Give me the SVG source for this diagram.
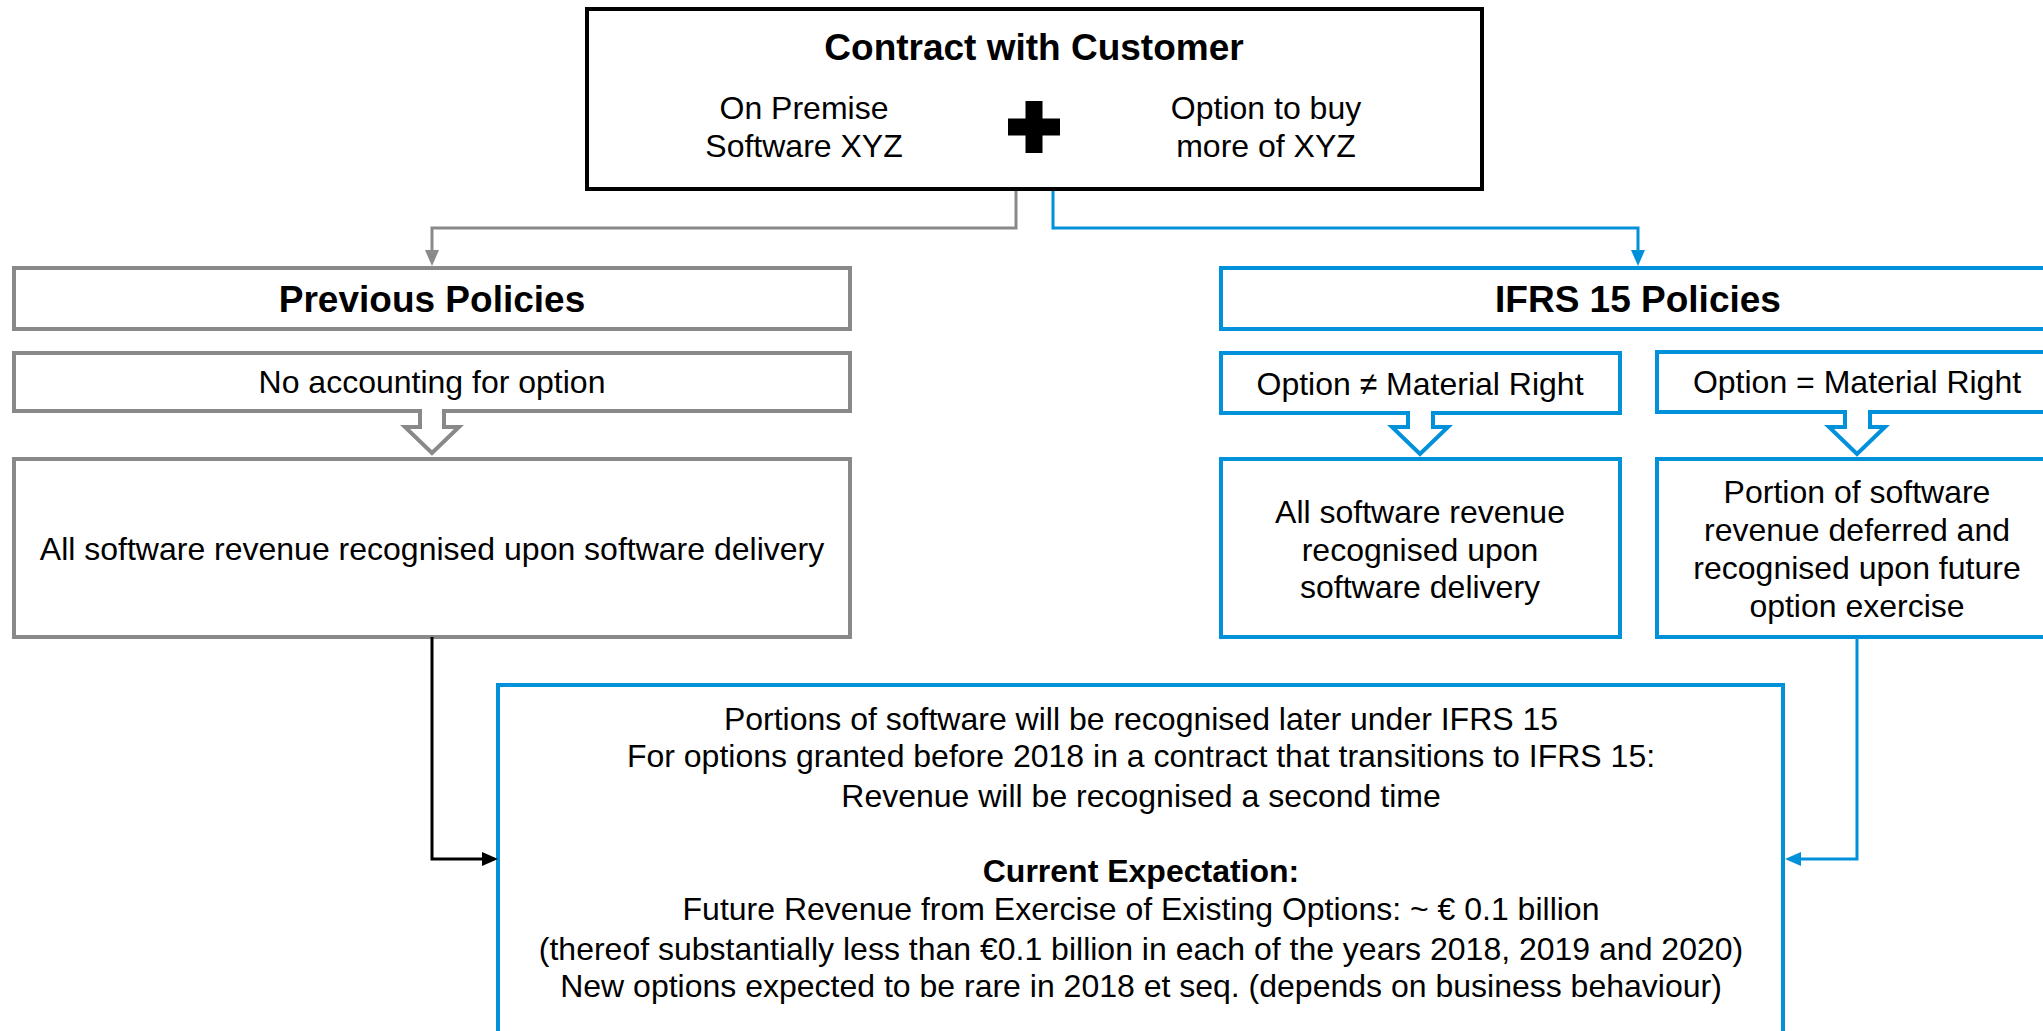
<svg xmlns="http://www.w3.org/2000/svg" width="2043" height="1031" viewBox="0 0 2043 1031">
<defs>
<style>
text{font-family:"Liberation Sans",Arial,sans-serif;fill:#000;text-anchor:middle}
.t{font-size:37px;font-weight:bold}
.b{font-size:32px}
.bx{fill:#fff;stroke-width:4}
.blk{stroke:#000}
.gry{stroke:#898989}
.blu{stroke:#0091DA}
.ln{fill:none;stroke-width:3}
.ha{fill:#fff;stroke-width:4;stroke-linejoin:miter}
</style>
<marker id="ag" viewBox="0 0 16 14" refX="10" refY="7" markerWidth="16" markerHeight="14" markerUnits="userSpaceOnUse" orient="auto"><path d="M0,0 L16,7 L0,14 z" fill="#898989"/></marker>
<marker id="ab" viewBox="0 0 16 14" refX="10" refY="7" markerWidth="16" markerHeight="14" markerUnits="userSpaceOnUse" orient="auto"><path d="M0,0 L16,7 L0,14 z" fill="#0091DA"/></marker>
<marker id="ak" viewBox="0 0 16 14" refX="10" refY="7" markerWidth="16" markerHeight="14" markerUnits="userSpaceOnUse" orient="auto"><path d="M0,0 L16,7 L0,14 z" fill="#000"/></marker>
</defs>
<rect width="2043" height="1031" fill="#fff"/>

<g id="contract">
<rect class="bx blk" x="587" y="9" width="895" height="180"/>
<text class="t" x="1034" y="60">Contract with Customer</text>
<text class="b" x="804" y="119">On Premise</text>
<text class="b" x="804" y="157">Software XYZ</text>
<rect x="1008" y="118.5" width="52" height="17" fill="#000"/>
<rect x="1025.5" y="101" width="17" height="52" fill="#000"/>
<text class="b" x="1266" y="119">Option to buy</text>
<text class="b" x="1266" y="157">more of XYZ</text>
</g>

<g id="previous-policies">
<rect class="bx gry" x="14" y="268" width="836" height="61"/>
<text class="t" x="432" y="312">Previous Policies</text>
</g>
<g id="no-accounting">
<rect class="bx gry" x="14" y="353" width="836" height="58"/>
<text class="b" x="432" y="393">No accounting for option</text>
</g>
<g id="all-revenue-previous">
<rect class="bx gry" x="14" y="459" width="836" height="178"/>
<text class="b" x="432" y="560">All software revenue recognised upon software delivery</text>
</g>

<g id="ifrs15-policies">
<rect class="bx blu" x="1221" y="268" width="840" height="61"/>
<text class="t" x="1638" y="312">IFRS 15 Policies</text>
</g>
<g id="option-not-material">
<rect class="bx blu" x="1221" y="353" width="399" height="60"/>
<text class="b" x="1420" y="395">Option ≠ Material Right</text>
</g>
<g id="option-material">
<rect class="bx blu" x="1657" y="352" width="400" height="60"/>
<text class="b" x="1857" y="393">Option = Material Right</text>
</g>
<g id="all-revenue-ifrs">
<rect class="bx blu" x="1221" y="459" width="399" height="178"/>
<text class="b" x="1420" y="523">All software revenue</text>
<text class="b" x="1420" y="561">recognised upon</text>
<text class="b" x="1420" y="598">software delivery</text>
</g>
<g id="portion-deferred">
<rect class="bx blu" x="1657" y="459" width="400" height="178"/>
<text class="b" x="1857" y="503">Portion of software</text>
<text class="b" x="1857" y="541">revenue deferred and</text>
<text class="b" x="1857" y="579">recognised upon future</text>
<text class="b" x="1857" y="617">option exercise</text>
</g>

<g id="outcome">
<rect class="bx blu" x="498" y="685" width="1285" height="400"/>
<text class="b" x="1141" y="730">Portions of software will be recognised later under IFRS 15</text>
<text class="b" x="1141" y="767">For options granted before 2018 in a contract that transitions to IFRS 15:</text>
<text class="b" x="1141" y="807">Revenue will be recognised a second time</text>
<text class="b" x="1141" y="882" font-weight="bold">Current Expectation:</text>
<text class="b" x="1141" y="920">Future Revenue from Exercise of Existing Options: ~ € 0.1 billion</text>
<text class="b" x="1141" y="960">(thereof substantially less than €0.1 billion in each of the years 2018, 2019 and 2020)</text>
<text class="b" x="1141" y="997">New options expected to be rare in 2018 et seq. (depends on business behaviour)</text>
</g>

<g id="connectors">
<path class="ln gry" d="M1016,191 V228 H432 V260" marker-end="url(#ag)"/>
<path class="ln blu" d="M1053,191 V228 H1638 V260" marker-end="url(#ab)"/>
<path class="ln blk" stroke="#000" d="M432,637 V859 H492" marker-end="url(#ak)"/>
<path class="ln blu" d="M1857,637 V859 H1791" marker-end="url(#ab)"/>
<path class="ha gry" d="M420,409 V427 H405 L432,453 L459,427 H444 V409"/>
<path class="ha blu" d="M1408,411 V427 H1392 L1420,454 L1448,427 H1433 V411"/>
<path class="ha blu" d="M1845,410 V427 H1829 L1857,454 L1885,427 H1870 V410"/>
</g>
</svg>
